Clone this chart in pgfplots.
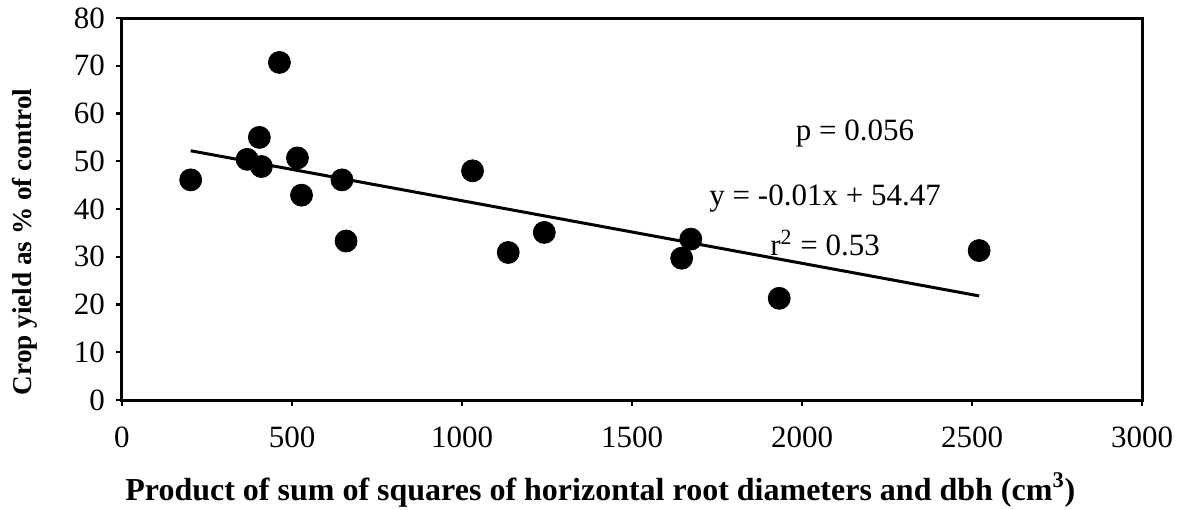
\documentclass[border=0pt]{standalone}
\usepackage{pgfplots}
\pgfplotsset{compat=1.18}
\usepackage{fontspec}
\setmainfont{Liberation Serif}
\begin{document}
\begin{tikzpicture}
\useasboundingbox (-61pt,-54.5pt) rectangle (530pt,200pt);
\begin{axis}[
  at={(0,0)}, anchor=south west,
  scale only axis, width=510pt, height=191pt,
  xmin=0, xmax=3000, ymin=0, ymax=80,
  xtick={0,500,...,3000}, ytick={0,10,...,80},
  tick align=outside, tick pos=left,
  major tick length=3pt,
  every tick/.style={line width=1.2pt, black},
  axis line style={line width=1.5pt},
  /pgf/number format/assume math mode=true,
  /pgf/number format/1000 sep={},
  scaled x ticks=false,
  ticklabel style={font=\fontsize{15.5}{15.5}\selectfont},
  xticklabel style={yshift=-7pt},
  yticklabel style={xshift=-2pt},
  xlabel={\textbf{Product of sum of squares of horizontal root diameters and dbh (cm\textsuperscript{3})}},
  xlabel style={font=\fontsize{16}{16}\selectfont, at={(axis description cs:0.469,-0.236)}, anchor=center},
  ylabel={\textbf{Crop yield as \% of control}},
  ylabel style={font=\fontsize{13.6}{13.6}\selectfont, at={(axis description cs:-0.095,0.414)}, anchor=center},
  clip=false,
]
\addplot[only marks, mark=*, mark size=5.5pt, mark options={fill=black, draw=black}] coordinates {
(202,46.1) (368,50.4) (404,55.0) (410,48.9) (463,70.7) (516,50.7) (528,42.9)
(647,46.1) (659,33.3) (1031,48.0) (1136,30.9) (1242,35.1) (1646,29.7)
(1673,33.7) (1933,21.3) (2521,31.3)
};
\addplot[line width=1.5pt, black] coordinates {(202,52.2) (2521,21.8)};
\node[font=\fontsize{15.5}{15.5}\selectfont] at (axis cs:2156,55.9) {p = 0.056};
\node[font=\fontsize{15.5}{15.5}\selectfont] at (axis cs:2068,42.1) {y = -0.01x + 54.47};
\node[font=\fontsize{15.5}{15.5}\selectfont] at (axis cs:2068,32.9) {r\textsuperscript{2} = 0.53};
\end{axis}
\end{tikzpicture}
\end{document}
